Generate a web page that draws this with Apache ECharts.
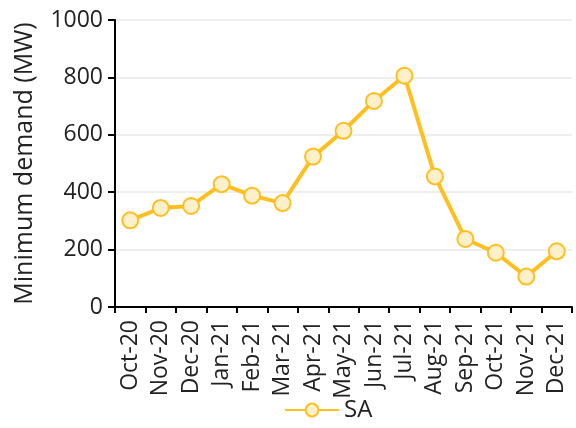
<!DOCTYPE html>
<html>
<head>
<meta charset="utf-8">
<script src="https://cdn.jsdelivr.net/npm/echarts@6/dist/echarts.min.js"></script>
<style>
  html, body { margin: 0; padding: 0; background: #fff; }
  #chart { width: 576px; height: 428px; }
</style>
</head>
<body>
<div id="chart"></div>
<script>
var months = ['Oct-20', 'Nov-20', 'Dec-20', 'Jan-21', 'Feb-21', 'Mar-21', 'Apr-21', 'May-21',
              'Jun-21', 'Jul-21', 'Aug-21', 'Sep-21', 'Oct-21', 'Nov-21', 'Dec-21'];
var saDemand = [302, 345, 352, 428, 388, 362, 524, 614, 718, 806, 455, 237, 189, 106, 194];

var font = '"Open Sans", "Noto Sans", sans-serif';
var myChart = echarts.init(document.getElementById('chart'));

var option = {
    animation: false,
    grid: {
        left: 115,
        right: 4,
        top: 20,
        bottom: 121
    },
    legend: {
        bottom: 1,
        left: 279,
        itemWidth: 54,
        itemHeight: 16,
        itemGap: 6,
        textStyle: { fontFamily: font, fontSize: 24, color: '#222' },
        data: ['SA']
    },
    xAxis: {
        type: 'category',
        data: months,
        boundaryGap: true,
        axisLine: { lineStyle: { color: '#000', width: 2 } },
        axisTick: { show: true, length: 6, lineStyle: { color: '#000', width: 2 } },
        axisLabel: {
            rotate: 90,
            interval: 0,
            margin: 13,
            fontFamily: font,
            fontSize: 23,
            color: '#222'
        }
    },
    yAxis: {
        type: 'value',
        min: 0,
        max: 1000,
        interval: 200,
        name: 'Minimum demand (MW)',
        nameLocation: 'middle',
        nameGap: 78,
        nameTextStyle: { fontFamily: font, fontSize: 25, color: '#222' },
        axisLine: { show: true, lineStyle: { color: '#000', width: 2 } },
        axisTick: { show: true, length: 7, lineStyle: { color: '#000', width: 2 } },
        axisLabel: {
            fontFamily: font, fontSize: 23, color: '#222', margin: 12,
            formatter: function (v) { return String(v); }
        },
        splitLine: { lineStyle: { color: '#eeeeee', width: 2 } }
    },
    series: [{
        name: 'SA',
        type: 'line',
        data: saDemand,
        symbol: 'circle',
        symbolSize: 16,
        showAllSymbol: true,
        lineStyle: { color: '#FFBF1F', width: 4 },
        itemStyle: { color: '#FFF0CC', borderColor: '#FFBF1F', borderWidth: 2 }
    }]
};

myChart.setOption(option);
</script>
</body>
</html>
